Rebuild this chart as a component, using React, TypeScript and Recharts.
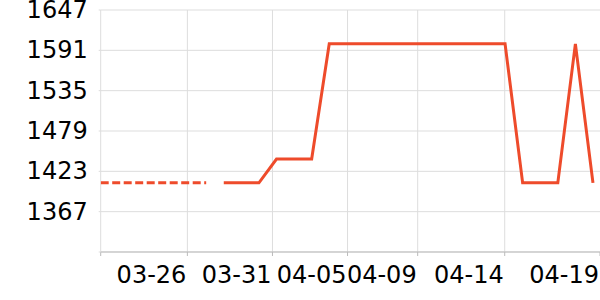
import { LineChart, Line, XAxis, YAxis, CartesianGrid, ReferenceLine } from 'recharts';

// one point per day index, 29 points
const dayIndex = [
  0, 1, 2, 3, 4, 5, 6, 7, 8, 9, 10, 11, 12, 13, 14, 15, 16, 17, 18, 19, 20, 21, 22, 23, 24, 25, 26, 27, 28,
];

// dashed part (estimate) at the start, solid series afterwards
const estimated = [
  1407, 1407, 1407, 1407, 1407, 1407, 1407, null, null, null, null, null, null, null, null, null, null, null,
  null, null, null, null, null, null, null, null, null, null, null,
];
const actual = [
  null, null, null, null, null, null, null, 1407, 1407, 1407, 1440, 1440, 1440, 1600, 1600, 1600, 1600, 1600,
  1600, 1600, 1600, 1600, 1600, 1600, 1407, 1407, 1407, 1600, 1407,
];

const xTickPositions = [0, 4.93, 9.77, 14.04, 18.03, 22.98, 28.4];
const xTickLabels = ['', '03-26', '03-31', '04-05', '04-09', '04-14', '04-19'];
const yTicks = [1311, 1367, 1423, 1479, 1535, 1591, 1647];

const data = dayIndex.map((i, k) => ({ i, estimated: estimated[k], actual: actual[k] }));

const FONT = '"DejaVu Sans", sans-serif';
const RED = '#ee4b2b';
const GRID = '#dddddd';

function XTick({ x, y, payload }: any) {
  const k = xTickPositions.indexOf(payload.value);
  return (
    <text x={x - 1} y={y} dy={17} textAnchor="end" fontSize={24} fontFamily={FONT} fill="#000">
      {xTickLabels[k] ?? ''}
    </text>
  );
}

function YTick({ x, y, payload }: any) {
  if (payload.value === yTicks[0]) return null;
  return (
    <text x={x} y={y} dy={8} textAnchor="end" fontSize={24} fontFamily={FONT} fill="#000">
      {payload.value}
    </text>
  );
}

export default function App() {
  return (
    <div style={{ position: 'fixed', left: 0, top: 0, width: 600, height: 300, background: '#fff' }}>
      <LineChart width={600} height={300} data={data} margin={{ top: 10, right: 0, left: 0, bottom: 0 }}>
        <CartesianGrid stroke={GRID} strokeWidth={1} vertical={false} />
        {/* vertical grid lines, the last tick sits on the canvas edge and has none */}
        {xTickPositions.slice(0, -1).map((v) => (
          <ReferenceLine key={v} x={v} stroke={GRID} strokeWidth={1} />
        ))}
        <XAxis
          dataKey="i"
          type="number"
          domain={[0, 28.4]}
          ticks={xTickPositions}
          interval={0}
          height={48}
          stroke="#bbbbbb"
          tickSize={4}
          tickMargin={10}
          tick={<XTick />}
          allowDataOverflow
        />
        <YAxis
          type="number"
          domain={[1311, 1647]}
          ticks={yTicks}
          interval={0}
          width={100.7}
          axisLine={false}
          stroke={GRID}
          tickSize={2}
          tickMargin={11}
          tick={<YTick />}
        />
        <Line
          dataKey="estimated"
          stroke={RED}
          strokeWidth={3}
          strokeDasharray="8 3.5"
          dot={false}
          activeDot={false}
          isAnimationActive={false}
        />
        <Line
          dataKey="actual"
          stroke={RED}
          strokeWidth={3}
          dot={false}
          activeDot={false}
          isAnimationActive={false}
        />
      </LineChart>
    </div>
  );
}
